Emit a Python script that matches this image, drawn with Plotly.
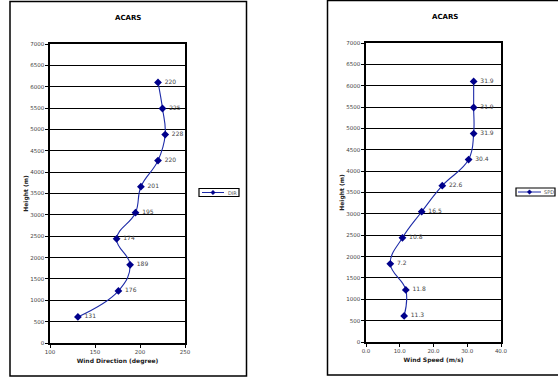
import plotly.graph_objects as go

heights = [6100, 5490, 4880, 4270, 3660, 3050, 2440, 1830, 1220, 610]
wind_dir = [220, 225, 228, 220, 201, 195, 174, 189, 176, 131]
wind_spd = [31.9, 31.9, 31.9, 30.4, 22.6, 16.5, 10.8, 7.2, 11.8, 11.3]
dir_labels = [" " + str(v) for v in wind_dir]
spd_labels = [" " + f"{v:.1f}" for v in wind_spd]
series_names = ["DIR", "SPD"]

W, H = 558, 383
FONT = "DejaVu Sans"
LINE = "#1c2aa8"
MARK = "#00008b"

fig = go.Figure()
fig.add_trace(go.Scatter(
    x=wind_dir, y=heights, mode="lines+markers+text", name=series_names[0],
    text=dir_labels, textposition="middle right",
    textfont=dict(size=6, color="#444", family=FONT),
    line=dict(color=LINE, width=1.1, shape="spline", smoothing=1.2),
    marker=dict(symbol="diamond", size=6, color=MARK),
    xaxis="x", yaxis="y", cliponaxis=False, showlegend=False))
fig.add_trace(go.Scatter(
    x=wind_spd, y=heights, mode="lines+markers+text", name=series_names[1],
    text=spd_labels, textposition="middle right",
    textfont=dict(size=6, color="#444", family=FONT),
    line=dict(color=LINE, width=1.1, shape="spline", smoothing=1.2),
    marker=dict(symbol="diamond", size=6, color=MARK),
    xaxis="x2", yaxis="y2", cliponaxis=False, showlegend=False))

def px(x):
    return x / W

def py(y):
    return 1 - y / H

tickfont = dict(size=5.5, color="#444", family=FONT)
axtitle = dict(size=6, color="#222", family=FONT)

yax = dict(range=[0, 7000], dtick=500, showgrid=True, gridcolor="#000", gridwidth=1.2,
           showline=True, linecolor="#000", linewidth=1.5, mirror=True,
           ticks="outside", ticklen=3, tickcolor="#000", tickfont=tickfont,
           zeroline=False, fixedrange=True, automargin=False)
xcommon = dict(showgrid=False, showline=True, linecolor="#000", linewidth=1.5, mirror=True,
               ticks="outside", ticklen=3, tickcolor="#000", tickfont=tickfont,
               zeroline=False, automargin=False)

shapes = [
    dict(type="rect", xref="paper", yref="paper", x0=px(10), x1=px(246.5),
         y0=py(376), y1=py(1.5), line=dict(color="#000", width=1.5)),
    dict(type="rect", xref="paper", yref="paper", x0=px(327.5), x1=px(560),
         y0=py(375), y1=py(0.5), line=dict(color="#000", width=1.5)),
]
annotations = [
    dict(text="<b>ACARS</b>", x=px(128), y=py(18), xref="paper", yref="paper",
         xanchor="center", yanchor="middle",
         showarrow=False, font=dict(size=7, color="#000", family=FONT)),
    dict(text="<b>ACARS</b>", x=px(445), y=py(17), xref="paper", yref="paper",
         xanchor="center", yanchor="middle",
         showarrow=False, font=dict(size=7, color="#000", family=FONT)),
]

# legend boxes (drawn manually to match the compact original legend)
for name, (bx0, bx1, by0, by1, lx0, lx1, dx, tx) in zip(
        series_names,
        [(199, 239, 188.5, 196.5, 202, 224, 213, 225.5),
         (516, 555, 188, 196, 518, 541, 529.5, 542)]):
    cy = (by0 + by1) / 2
    shapes.append(dict(type="rect", xref="paper", yref="paper", x0=px(bx0), x1=px(bx1),
                       y0=py(by1), y1=py(by0), line=dict(color="#000", width=1.2),
                       fillcolor="white"))
    shapes.append(dict(type="line", xref="paper", yref="paper", x0=px(lx0), x1=px(lx1),
                       y0=py(cy), y1=py(cy), line=dict(color=LINE, width=1)))
    d = 2.2
    shapes.append(dict(type="path", xref="paper", yref="paper",
                       path=f"M {px(dx)},{py(cy - d)} L {px(dx + d)},{py(cy)} "
                            f"L {px(dx)},{py(cy + d)} L {px(dx - d)},{py(cy)} Z",
                       fillcolor=MARK, line=dict(color=MARK, width=0.5)))
    annotations.append(dict(text=name, x=px(tx), y=py(cy), xref="paper", yref="paper",
                            xanchor="left", yanchor="middle", showarrow=False,
                            font=dict(size=5, color="#555", family=FONT)))

fig.update_layout(
    width=W, height=H, margin=dict(l=0, r=0, t=0, b=0, autoexpand=False),
    paper_bgcolor="white", plot_bgcolor="white",
    font=dict(family=FONT),
    showlegend=False,
    xaxis=dict(domain=[px(50), px(185)], range=[100, 250], dtick=50, anchor="y",
               title=dict(text="<b>Wind Direction (degree)</b>", font=axtitle, standoff=4),
               **xcommon),
    yaxis=dict(domain=[py(343), py(44)], anchor="x",
               title=dict(text="<b>Height (m)</b>", font=axtitle, standoff=1), **yax),
    xaxis2=dict(domain=[px(366), px(501)], range=[0, 40], dtick=10, tickformat=".1f",
                anchor="y2",
                title=dict(text="<b>Wind Speed (m/s)</b>", font=axtitle, standoff=4),
                **xcommon),
    yaxis2=dict(domain=[py(342), py(43)], anchor="x2",
                title=dict(text="<b>Height (m)</b>", font=axtitle, standoff=1), **yax),
    shapes=shapes,
    annotations=annotations,
)

fig.write_html("out.html", config={"displayModeBar": False},
               post_script="document.body.style.margin='0';document.body.style.overflow='hidden';")
